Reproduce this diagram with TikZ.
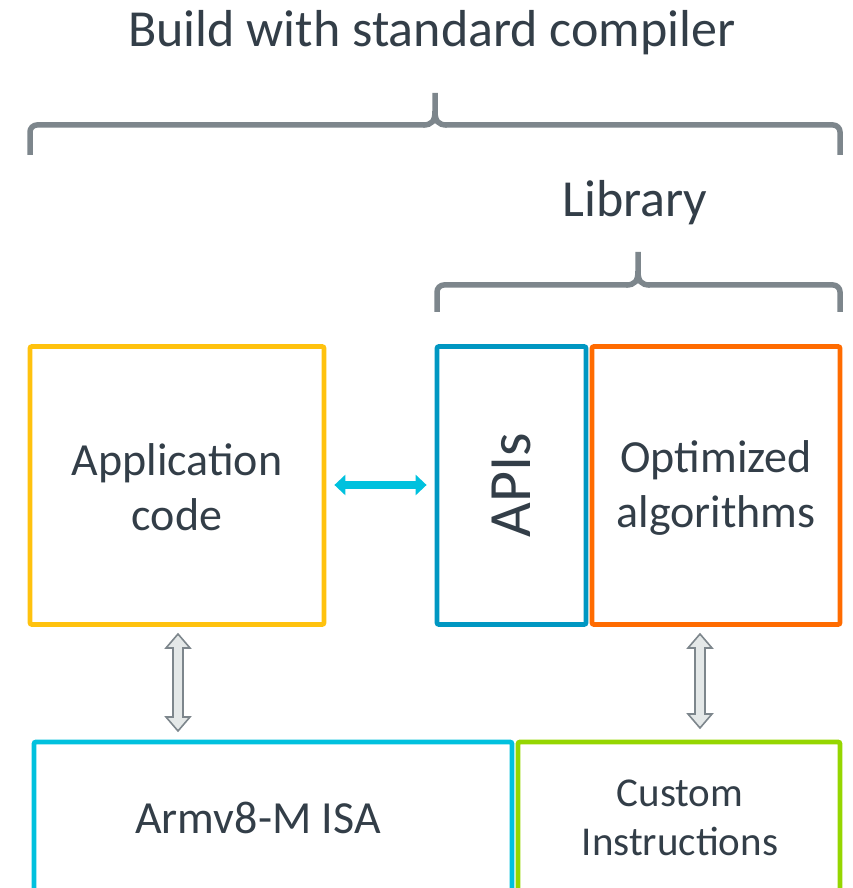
\documentclass[tikz,border=0pt]{standalone}
\usepackage{fontspec}
\setmainfont{Carlito}
\usetikzlibrary{arrows.meta}
\definecolor{txt}{HTML}{333E48}
\definecolor{brgray}{HTML}{7D868C}
\definecolor{cyellow}{HTML}{FFC20E}
\definecolor{cblue}{HTML}{0097C2}
\definecolor{corange}{HTML}{FF6B00}
\definecolor{ccyan}{HTML}{00C1DE}
\definecolor{cgreen}{HTML}{95D600}
\definecolor{afill}{HTML}{E4E8E8}
\tikzset{
  box/.style={draw, line width=4.8pt, rounded corners=2pt, inner sep=0pt, text=txt, align=center, font=\fontsize{46}{55}\selectfont},
  brace/.style={draw=brgray, line width=5.5pt, rounded corners=7pt},
  lbl/.style={text=txt, inner sep=0pt},
  hollow/.style={draw=brgray, fill=afill, line width=1.6pt, line join=miter},
}
\begin{document}
\begin{tikzpicture}[x=1pt,y=1pt]
\useasboundingbox (0,0) rectangle (852,888);
\clip (0,0) rectangle (852,888);

% title and braces
\node[lbl, font=\fontsize{52}{60}\selectfont] (title) at (432,855) {Build with standard compiler};
\draw[brace] (30,733) |- (425,763);
\draw[brace] (840,733) |- (445,763);
\draw[draw=brgray, line width=5.5pt] (423,763) .. controls (432,763) and (435,767) .. (435,777) -- (435,795);
\draw[draw=brgray, line width=5.5pt] (447,763) .. controls (438,763) and (435,767) .. (435,777);

\node[lbl, font=\fontsize{52}{60}\selectfont] (lib) at (635,685) {Library};
\draw[brace] (437,576) |- (628,603);
\draw[brace] (840,576) |- (648,603);
\draw[draw=brgray, line width=5.5pt] (626,603) .. controls (635,603) and (638,607) .. (638,617) -- (638,636);
\draw[draw=brgray, line width=5.5pt] (650,603) .. controls (641,603) and (638,607) .. (638,617);

% boxes
\node[box, draw=cyellow, minimum width=294pt, minimum height=278pt] (app) at (177,402.5) {};
\node[lbl, align=center, font=\fontsize{46}{55}\selectfont] (apptxt) at (177,400.5) {Application\\code};
\node[box, draw=cblue, minimum width=149pt, minimum height=278pt] (apis) at (511.5,402.5) {};
\node[lbl, rotate=90, font=\fontsize{60}{60}\selectfont] (apistxt) at (apis.center) {APIs};
\node[box, draw=corange, minimum width=248pt, minimum height=278pt] (opt) at (716,402.5) {};
\node[lbl, align=center, font=\fontsize{46}{55}\selectfont] (opttxt) at (716,400.5) {Optimized\\algorithms};
\node[box, draw=ccyan, minimum width=478pt, minimum height=200pt] (isa) at (273,46) {};
\node[lbl, font=\fontsize{46}{55}\selectfont] (isatxt) at (258,70) {Armv8-M ISA};
\node[box, draw=cgreen, minimum width=322pt, minimum height=200pt] (cust) at (679,46) {};
\node[lbl, align=center, font=\fontsize{41}{49}\selectfont] (custtxt) at (680,70) {Custom\\Instructions};

% horizontal arrow
\draw[draw=ccyan, line width=8pt, {Triangle[length=11pt,width=20pt]}-{Triangle[length=11pt,width=20pt]}, shorten <=8pt, shorten >=8pt]
  (app.east |- 0,403) -- (apis.west |- 0,403);

% hollow vertical double arrows
\draw[hollow] (178,254) -- (190,240) -- (183,240) -- (183,171) -- (190,171) -- (178,157) -- (166,171) -- (173,171) -- (173,240) -- (166,240) -- cycle;
\draw[hollow] (700,254) -- (712,240) -- (705,240) -- (705,174) -- (712,174) -- (700,160) -- (688,174) -- (695,174) -- (695,240) -- (688,240) -- cycle;
\end{tikzpicture}
\end{document}
